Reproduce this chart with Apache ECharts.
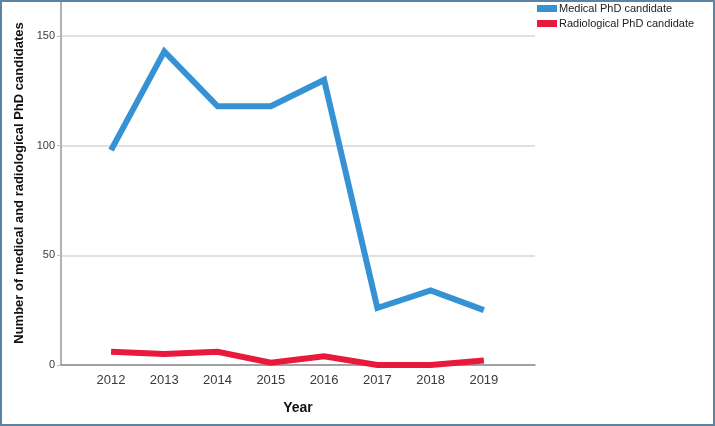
<!DOCTYPE html>
<html>
<head>
<meta charset="utf-8">
<script src="https://cdn.jsdelivr.net/npm/echarts@6/dist/echarts.min.js"></script>
<style>
  html, body { margin: 0; padding: 0; background: #fff; }
  #wrap { position: relative; width: 715px; height: 426px; }
  #main { width: 715px; height: 426px; }
  #frame { position: absolute; left: 0; top: 0; width: 715px; height: 426px; box-sizing: border-box; border: 2px solid #5b84a2; pointer-events: none; }
</style>
</head>
<body>
<div id="wrap">
  <div id="main"></div>
  <div id="frame"></div>
</div>
<script>
// 年份与两组博士候选人数
const years = [2012, 2013, 2014, 2015, 2016, 2017, 2018, 2019];
const medical = [98, 143, 118, 118, 130, 26, 34, 25];
const radiological = [6, 5, 6, 1, 4, 0, 0, 2];
const yTicks = [0, 50, 100, 150];

const toPairs = (vals) => years.map((y, i) => [y, vals[i]]);

const options = {
  backgroundColor: '#fff',
  animation: false,
  textStyle: { fontFamily: 'Liberation Sans, Arial, sans-serif' },
  grid: { left: 61, right: 180, top: 1, bottom: 61 },
  legend: {
    orient: 'vertical',
    left: 537,
    top: 3,
    padding: 0,
    itemWidth: 20,
    itemHeight: 7,
    itemGap: 4,
    icon: 'rect',
    textStyle: { fontSize: 11, color: '#222', padding: [0, 0, 0, -3] },
    data: ['Medical PhD candidate', 'Radiological PhD candidate']
  },
  xAxis: {
    type: 'value',
    min: 2011.06,
    max: 2019.96,
    name: 'Year',
    nameLocation: 'middle',
    nameGap: 36,
    nameTextStyle: { fontSize: 14, fontWeight: 'bold', color: '#111' },
    axisLine: { lineStyle: { color: '#8c8c8c', width: 1.5 } },
    axisTick: { show: false },
    splitLine: { show: false },
    axisLabel: {
      customValues: years,
      fontSize: 13,
      color: '#3a3a3a',
      margin: 9,
      formatter: (v) => String(v)
    }
  },
  yAxis: {
    type: 'value',
    min: 0,
    max: 166,
    interval: 50,
    name: 'Number of medical and radiological PhD candidates',
    nameLocation: 'middle',
    nameGap: 29,
    nameTextStyle: { fontSize: 13, fontWeight: 'bold', color: '#111' },
    axisLine: { show: true, lineStyle: { color: '#9a9a9a', width: 1.5 } },
    axisTick: { show: true, length: 4, lineStyle: { color: '#bdbdbd' } },
    splitLine: { show: true, showMaxLine: false, lineStyle: { color: '#d6d6d6', width: 1.5 } },
    axisLabel: {
      fontSize: 11,
      color: '#3a3a3a',
      margin: 6,
      showMaxLabel: false,
      formatter: (v) => (yTicks.includes(v) ? String(v) : '')
    }
  },
  series: [
    {
      name: 'Medical PhD candidate',
      type: 'line',
      symbol: 'none',
      data: toPairs(medical),
      lineStyle: { color: '#3592d3', width: 6, join: 'miter' },
      itemStyle: { color: '#3592d3' }
    },
    {
      name: 'Radiological PhD candidate',
      type: 'line',
      symbol: 'none',
      data: toPairs(radiological),
      lineStyle: { color: '#e8193c', width: 6, join: 'miter' },
      itemStyle: { color: '#e8193c' }
    }
  ]
};

const chart = echarts.init(document.getElementById('main'));
chart.setOption(options);
window.addEventListener('resize', () => {
  chart.resize();
});
</script>
</body>
</html>
